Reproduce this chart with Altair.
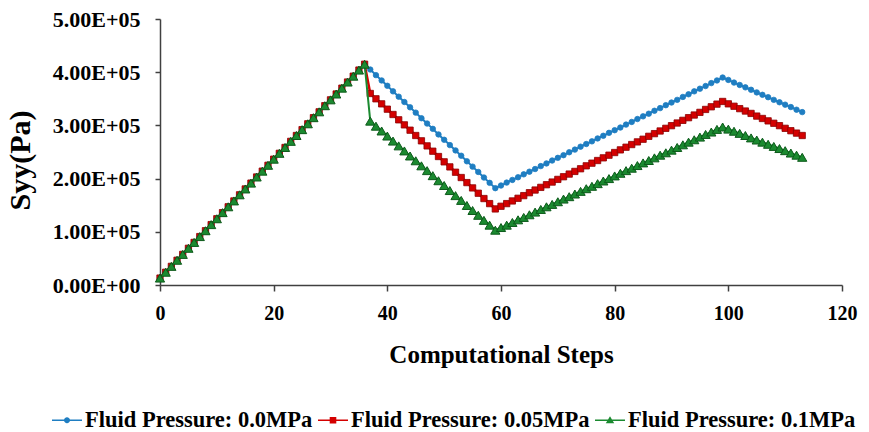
import altair as alt
import pandas as pd

# Loading branch shared by all three cases (steps 0-36), Syy in Pa
loading = [
    13000, 24000, 35000, 46500, 57500, 69000, 80000, 91000, 102000, 113500,
    124500, 136000, 147000, 158000, 169500, 180500, 191500, 203000, 214000, 225000,
    236500, 247500, 258500, 270000, 281000, 292000, 303000, 314500, 325500, 337000,
    348000, 359000, 370000, 381500, 392500, 404000, 415000,
]

# Unloading / reloading branches (steps 37-113), Syy in Pa
tail_00 = [
    405000, 394500, 384500, 374500, 364000, 354000, 344000, 334000, 324000, 313500,
    303500, 293500, 283000, 273000, 263000, 253000, 243000, 232500, 222500, 212500,
    202000, 192000, 182000,
    187000, 192500, 197500, 202500, 208000, 213000, 218000, 223500, 228500, 234000,
    239000, 244000, 249500, 254500, 260000, 265000, 270000, 275500, 280500, 286000,
    291000, 296000, 301500, 306500, 312000, 317000, 322000, 327500, 332500, 338000,
    343000, 348000, 353500, 358500, 364000, 369000, 374000, 379500, 384500, 390000,
    385500, 380500, 376000, 371500, 367000, 362000, 357500, 353000, 348000, 343500,
    339000, 334500, 329500, 325000,
]
tail_005 = [
    360000, 350000, 340500, 330500, 320500, 310500, 301000, 291000, 281000, 271000,
    261500, 251500, 241500, 231500, 222000, 212000, 202000, 192500, 182500, 172500,
    162500, 153000, 143000,
    148000, 153000, 158000, 163000, 168000, 173500, 178500, 183500, 188500, 193500,
    198500, 203500, 208500, 213500, 218500, 224000, 229000, 234000, 239000, 244000,
    249000, 254000, 259000, 264000, 269000, 274000, 279500, 284500, 289500, 294500,
    299500, 304500, 309500, 314500, 319500, 324500, 330000, 335000, 340000, 345000,
    340500, 336000, 331500, 327000, 322500, 317500, 313000, 308500, 304000, 299500,
    294500, 290000, 285500, 281000,
]
tail_01 = [
    308000, 298500, 289500, 280000, 270500, 261500, 252000, 242500, 233500, 224000,
    215000, 205500, 196000, 187000, 177500, 168000, 159000, 149500, 140000, 131000,
    121500, 112500, 103000,
    108000, 112500, 117500, 122500, 127000, 132000, 137000, 142000, 147000, 151500,
    156500, 161500, 166000, 171000, 176000, 181000, 185500, 190500, 195500, 200000,
    205000, 210000, 215000, 219500, 224500, 229500, 234000, 239000, 244000, 248500,
    253500, 258500, 263500, 268500, 273000, 278000, 283000, 287500, 292500, 297000,
    293000, 289000, 285000, 281000, 276500, 272500, 268500, 264500, 260500, 256500,
    252500, 248000, 244000, 240000,
]

series_names = [
    "Fluid Pressure: 0.0MPa",
    "Fluid Pressure: 0.05MPa",
    "Fluid Pressure: 0.1MPa",
]
series_tails = [tail_00, tail_005, tail_01]
series_colors = ["#1f7ec2", "#d40000", "#1b8a30"]
edge_colors = ["#1f7ec2", "#8a0000", "#0c5a1a"]
marker_shapes = ["circle", "square", "triangle-up"]
marker_sizes = [30, 40, 85]
marker_edges = [0.8, 0.8, 1.0]
line_widths = [2, 2.5, 2]

# Legend glyphs: a short line with the series marker on it (unit box -1..1)
legend_glyphs = [
    "M-1,-0.05H1V0.05H-1Z M-0.2,0A0.2,0.2,0,1,1,0.2,0A0.2,0.2,0,1,1,-0.2,0Z",
    "M-1,-0.05H1V0.05H-1Z M-0.22,-0.22H0.22V0.22H-0.22Z",
    "M-1,-0.05H1V0.05H-1Z M0,-0.27L0.28,0.2H-0.28Z",
]

x_ticks = [0, 20, 40, 60, 80, 100, 120]
y_ticks = [0, 100000, 200000, 300000, 400000, 500000]

frames = []
for name, tail in zip(series_names, series_tails):
    vals = loading + tail
    frames.append(pd.DataFrame({"step": list(range(len(vals))), "syy": vals, "series": name}))
data = pd.concat(frames, ignore_index=True)

FONT = "'Liberation Serif', 'Times New Roman', Times, serif"
AXIS_COLOR = "#404040"

x_enc = alt.X(
    "step:Q",
    scale=alt.Scale(domain=[0, 120], nice=False),
    axis=alt.Axis(
        values=x_ticks, title="Computational Steps", grid=False,
        labelFont=FONT, labelFontSize=20, labelFontWeight="bold", labelColor="black",
        labelPadding=12, labelFlush=False, labelOverlap=False,
        tickSize=6, tickWidth=1.5, tickColor=AXIS_COLOR,
        domainColor=AXIS_COLOR, domainWidth=1.5,
        titleFont=FONT, titleFontSize=25, titleFontWeight="bold", titleColor="black",
        titleY=77, titleBaseline="alphabetic",
    ),
)
y_enc = alt.Y(
    "syy:Q",
    scale=alt.Scale(domain=[0, 500000], nice=False),
    axis=alt.Axis(
        values=y_ticks, title="Syy(Pa)", grid=False,
        labelExpr="datum.value == 0 ? '0.00E+00' : format(datum.value / 100000, '.2f') + 'E+05'",
        labelFont=FONT, labelFontSize=22, labelFontWeight="bold", labelColor="black",
        labelPadding=15, labelFlush=False, labelOverlap=False,
        tickSize=5, tickWidth=1.5, tickColor=AXIS_COLOR,
        domainColor=AXIS_COLOR, domainWidth=1.5,
        titleFont=FONT, titleFontSize=30, titleFontWeight="bold", titleColor="black",
        titleX=-140, titleY=141, titleAlign="center", titleBaseline="middle", titleAngle=-90,
    ),
)

layers = []
for name, col, edge, shp, sz, ew, lw in zip(series_names, series_colors, edge_colors,
                                             marker_shapes, marker_sizes, marker_edges,
                                             line_widths):
    base = alt.Chart(data).transform_filter(alt.datum.series == name)
    layers.append(base.mark_line(color=col, strokeWidth=lw).encode(x=x_enc, y=y_enc))
    layers.append(
        base.mark_point(shape=shp, filled=True, fill=col, stroke=edge, strokeWidth=ew,
                        size=sz, opacity=1).encode(x=x_enc, y=y_enc)
    )

legend = alt.Legend(
    orient="none", legendX=-108, legendY=386, direction="horizontal", title=None,
    symbolSize=900, symbolStrokeWidth=0, symbolOpacity=1,
    labelFont=FONT, labelFontSize=22.5, labelFontWeight="bold", labelColor="black",
    labelOffset=3, columnPadding=5, labelLimit=400,
)
key_layer = alt.Chart(data).mark_point(filled=True, opacity=0).encode(
    x=x_enc, y=y_enc,
    color=alt.Color("series:N", scale=alt.Scale(domain=series_names, range=series_colors), legend=legend),
    shape=alt.Shape("series:N", scale=alt.Scale(domain=series_names, range=legend_glyphs), legend=legend),
)

chart = (
    alt.layer(key_layer, *layers)
    .properties(
        width=682, height=266,
        autosize=alt.AutoSizeParams(type="none"),
        padding={"left": 160, "top": 19, "right": 27, "bottom": 147},
        background="white",
    )
    .configure_view(stroke=None)
)

chart.save("out.html", embed_options={"renderer": "svg", "actions": False})
